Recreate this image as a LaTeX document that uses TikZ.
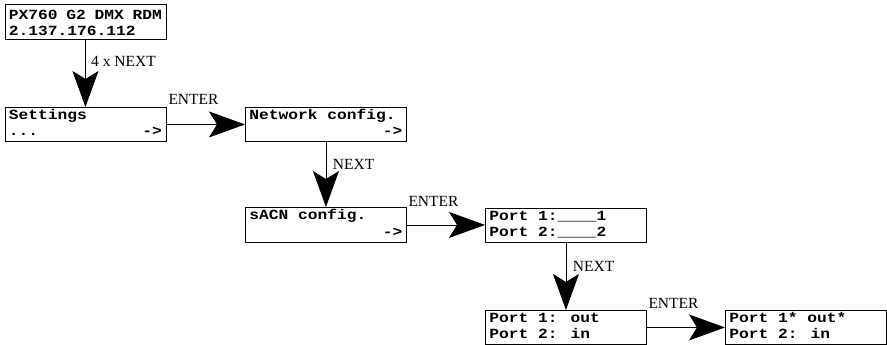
\documentclass[tikz,border=0pt]{standalone}
\usepackage{fontspec}
\setmainfont{Liberation Serif}
\newfontfamily\lcdfont[FakeStretch=1.16]{Liberation Mono}
\usetikzlibrary{arrows.meta}
\newcommand\lcdline[1]{\hbox to 153pt{\smash{\hbox to 153pt{#1}}}}
\newcommand\lcdtext[5]{\vbox to #1pt{\offinterlineskip\kern#2pt\lcdline{#4}\kern#3pt\lcdline{#5}\vss}}
\tikzset{
  lcd/.style={draw, line width=0.9pt, inner xsep=4pt, inner ysep=0pt, anchor=north west,
    font=\lcdfont\bfseries\fontsize{14}{16}\selectfont},
  arr/.style={line width=0.9pt, -{Stealth[length=36pt,width=26pt,inset=8pt]}},
  lbl/.style={inner sep=0pt, anchor=base west, font=\fontsize{15.5}{17}\selectfont}
}
\begin{document}
\begin{tikzpicture}[x=1pt,y=-1pt]
\useasboundingbox (0,0) rectangle (887,345);
\node[lcd] (b1) at (4.5,4) {\lcdtext{35}{15.5}{16}{PX760 G2 DMX RDM\hfil}{2.137.176.112\hfil}};
\node[lcd] (b2) at (4.5,107) {\lcdtext{34}{12.5}{16}{Settings\hfil}{...\hfil->}};
\node[lcd] (b3) at (245,107) {\lcdtext{34}{12.5}{16}{Network config.\hfil}{\hfil->}};
\node[lcd] (b4) at (245,207) {\lcdtext{35}{12.5}{17}{sACN config.\hfil}{\hfil->}};
\node[lcd] (b5) at (485,208) {\lcdtext{34}{12.5}{16}{Port 1:\_\_\_\_1\hfil}{Port 2:\_\_\_\_2\hfil}};
\node[lcd] (b6) at (485,310) {\lcdtext{34}{12.5}{16}{Port 1: out\hfil}{Port 2: in\hfil}};
\node[lcd] (b7) at (725,310) {\lcdtext{34}{12.5}{16}{Port 1* out*\hfil}{Port 2: in\hfil}};
\draw[arr] (b1.south) -- (b2.north);
\draw[arr] (b2.east) -- (b3.west);
\draw[arr] (b3.south) -- (b4.north);
\draw[arr] (b4.east) -- (b4.east -| b5.west);
\draw[arr] (b5.south) -- (b6.north);
\draw[arr] (b6.east) -- (b7.west);
\node[lbl] (l1) at (91,66.5) {4 x NEXT};
\node[lbl] (l2) at (168.3,104) {ENTER};
\node[lbl] (l3) at (332.7,169) {NEXT};
\node[lbl] (l4) at (408.3,206.5) {ENTER};
\node[lbl] (l5) at (572.7,271) {NEXT};
\node[lbl] (l6) at (648.3,308) {ENTER};
\end{tikzpicture}
\end{document}
